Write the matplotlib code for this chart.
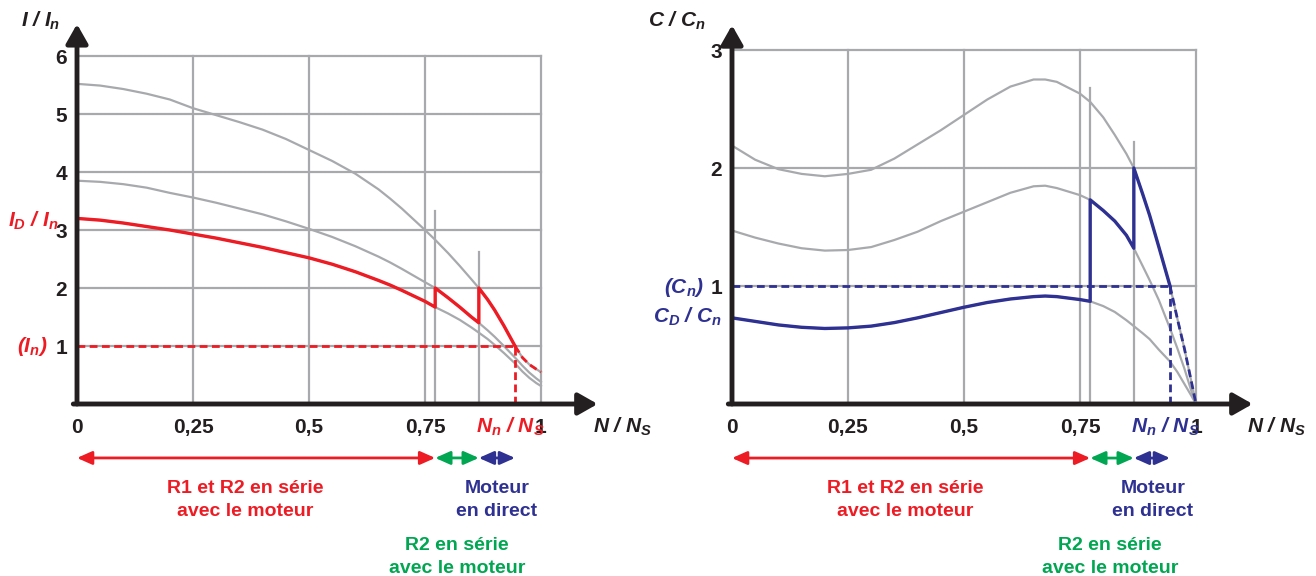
import matplotlib
matplotlib.use('Agg')
import matplotlib.pyplot as plt

plt.rcParams['font.family'] = ['Liberation Sans', 'DejaVu Sans']
plt.rcParams['font.weight'] = 'bold'
plt.rcParams['mathtext.fontset'] = 'custom'
plt.rcParams['mathtext.it'] = 'Liberation Sans:italic:bold'
plt.rcParams['mathtext.rm'] = 'Liberation Sans:bold'
plt.rcParams['mathtext.bf'] = 'Liberation Sans:bold'

# vitesses relatives N / Ns
vitesse = [0, 0.05, 0.1, 0.15, 0.2, 0.25, 0.3, 0.35, 0.4, 0.45, 0.5, 0.55, 0.6, 0.65,
           0.675, 0.7, 0.75, 0.772, 0.8, 0.825, 0.85, 0.866, 0.885, 0.9, 0.92, 0.944,
           0.96, 0.975, 0.99, 1.0]
n_r1 = 0.772   # court-circuit de R1
n_r2 = 0.866   # court-circuit de R2
n_n = 0.944    # point nominal

# courant I / In
courant_direct = [5.52, 5.49, 5.43, 5.35, 5.25, 5.1, 4.98, 4.86, 4.73, 4.57, 4.38, 4.19,
                  3.97, 3.7, 3.54, 3.37, 3.0, 2.83, 2.6, 2.38, 2.15, 2.0, 1.8, 1.62,
                  1.35, 1.0, 0.8, 0.68, 0.6, 0.55]
courant_r2 = [3.85, 3.83, 3.79, 3.73, 3.64, 3.56, 3.47, 3.37, 3.27, 3.15, 3.02, 2.88,
              2.72, 2.54, 2.44, 2.33, 2.1, 2.0, 1.83, 1.67, 1.5, 1.4, 1.27, 1.16,
              1.0, 0.8, 0.66, 0.54, 0.44, 0.38]
courant_r1r2 = [3.2, 3.17, 3.12, 3.06, 3.0, 2.93, 2.86, 2.78, 2.7, 2.61, 2.52, 2.41,
                2.28, 2.13, 2.05, 1.96, 1.77, 1.67, 1.56, 1.45, 1.32, 1.23, 1.12, 1.02,
                0.88, 0.7, 0.56, 0.45, 0.36, 0.31]

# couple C / Cn
couple_direct = [2.19, 2.07, 1.99, 1.95, 1.93, 1.95, 1.985, 2.08, 2.2, 2.32, 2.45, 2.58,
                 2.69, 2.75, 2.75, 2.73, 2.63, 2.56, 2.43, 2.28, 2.12, 2.0, 1.78, 1.6,
                 1.33, 1.0, 0.72, 0.47, 0.19, 0.0]
couple_r2 = [1.47, 1.41, 1.36, 1.32, 1.3, 1.305, 1.33, 1.39, 1.46, 1.55, 1.63, 1.71,
             1.79, 1.845, 1.85, 1.83, 1.77, 1.73, 1.64, 1.55, 1.43, 1.32, 1.17, 1.05,
             0.88, 0.64, 0.47, 0.3, 0.11, 0.0]
couple_r1r2 = [0.73, 0.7, 0.67, 0.65, 0.64, 0.645, 0.66, 0.69, 0.73, 0.775, 0.82, 0.86,
               0.89, 0.91, 0.915, 0.91, 0.885, 0.87, 0.83, 0.78, 0.71, 0.66, 0.6, 0.55,
               0.46, 0.36, 0.27, 0.17, 0.07, 0.0]

ticks_x = [0, 0.25, 0.5, 0.75, 1]
ticks_x_lab = ['0', '0,25', '0,5', '0,75', '1']
ticks_i = [1, 2, 3, 4, 5, 6]
ticks_c = [1, 2, 3]

rouge = '#ED1C24'
bleu = '#2E3192'
vert = '#00A651'
gris = '#A7A9AC'
noir = '#231F20'

W, H = 1316, 576
fig = plt.figure(figsize=(W / 100, H / 100), dpi=100)


def texte(x, y, s, **kw):
    fig.text(x / W, 1 - y / H, s, **kw)


i1 = vitesse.index(n_r1)
i2 = vitesse.index(n_r2)
i3 = vitesse.index(n_n)


def trajet(c1, c2, c3):
    xs = vitesse[:i1 + 1] + vitesse[i1:i2 + 1] + vitesse[i2:i3 + 1]
    ys = c1[:i1 + 1] + c2[i1:i2 + 1] + c3[i2:i3 + 1]
    return xs, ys


def repere(ax, ymax, y_fleche, hauts, y_barre):
    # grille
    for t in ticks_x[1:]:
        ax.plot([t, t], [0, ymax], color=gris, lw=1.6, zorder=1)
    ax.plot([n_r1, n_r1], [0, hauts[0]], color=gris, lw=1.6, zorder=1)
    ax.plot([n_r2, n_r2], [0, hauts[1]], color=gris, lw=1.6, zorder=1)
    # axes avec flèches
    tete = '-|>,head_length=0.58,head_width=0.33'
    ax.annotate('', xy=(1.122, 0), xytext=(-0.008, 0),
                arrowprops=dict(arrowstyle=tete, lw=3.5, color=noir, shrinkA=0, shrinkB=0,
                                mutation_scale=20),
                annotation_clip=False, zorder=5)
    ax.annotate('', xy=(0, y_fleche), xytext=(0, 0),
                arrowprops=dict(arrowstyle=tete, lw=3.5, color=noir, shrinkA=0, shrinkB=0,
                                mutation_scale=20),
                annotation_clip=False, zorder=5)
    for t, lab in zip(ticks_x, ticks_x_lab):
        ax.annotate(lab, xy=(t, 0), xytext=(0, -21), textcoords='offset points',
                    ha='center', va='baseline', fontsize=15, color=noir,
                    annotation_clip=False)
    # flèches des phases
    for a, b, c in [(0, n_r1, rouge), (n_r1, n_r2, vert), (n_r2, n_n, bleu)]:
        ax.annotate('', xy=(b, y_barre), xytext=(a, y_barre),
                    arrowprops=dict(arrowstyle='<|-|>,head_length=0.9,head_width=0.4',
                                    lw=2, color=c, shrinkA=0, shrinkB=0, mutation_scale=10),
                    annotation_clip=False)
    ax.axis('off')


# ---------- courant ----------
ax1 = fig.add_axes([77 / W, (H - 404) / H, 523 / W, 384 / H])
ax1.set_xlim(0, 523 / 464)
ax1.set_ylim(0, 384 / 58)
for t in ticks_i:
    ax1.plot([0, 1], [t, t], color=gris, lw=1.6, zorder=1)
    ax1.annotate(str(t), xy=(0, t), xytext=(-7, 0), textcoords='offset points',
                 ha='right', va='center_baseline', fontsize=15, color=noir,
                 annotation_clip=False)
repere(ax1, 6, 6.55, [3.33, 2.62], -0.93)
for c in [courant_direct, courant_r2, courant_r1r2]:
    ax1.plot(vitesse, c, color=gris, lw=1.6, zorder=2)
xs, ys = trajet(courant_r1r2, courant_r2, courant_direct)
ax1.plot(xs, ys, color=rouge, lw=2.4, zorder=3)
ax1.plot(vitesse[i3:], courant_direct[i3:], color=rouge, lw=2, ls=(0, (2.8, 1.6)), zorder=3)
ax1.plot([0, n_n], [1, 1], color=rouge, lw=2, ls=(0, (2.8, 1.6)), zorder=3)
ax1.plot([n_n, n_n], [0, 1], color=rouge, lw=2, ls=(0, (2.8, 1.6)), zorder=3)

txt = dict(fontsize=15, va='baseline', style='italic')
texte(41, 27, r'$I$ / $I_n$', color=noir, ha='center', **txt)
texte(8, 227, r'$I_D$ / $I_n$', color=rouge, ha='left', **txt)
texte(32, 352, r'($I_n$)', color=rouge, ha='center', **txt)
texte(510, 433, r'$N_n$ / $N_S$', color=rouge, ha='center', **txt)
texte(623, 433, r'$N$ / $N_S$', color=noir, ha='center', **txt)
bas = dict(fontsize=14, ha='center', va='center', linespacing=1.45)
texte(245, 500, 'R1 et R2 en série\navec le moteur', color=rouge, **bas)
texte(497, 500, 'Moteur\nen direct', color=bleu, **bas)
texte(457, 557, 'R2 en série\navec le moteur', color=vert, **bas)

# ---------- couple ----------
ax2 = fig.add_axes([732 / W, (H - 404) / H, 523 / W, 384 / H])
ax2.set_xlim(0, 523 / 464)
ax2.set_ylim(0, 384 / 118)
for t in ticks_c:
    ax2.plot([0, 1], [t, t], color=gris, lw=1.6, zorder=1)
    ax2.annotate(str(t), xy=(0, t), xytext=(-7, 0), textcoords='offset points',
                 ha='right', va='center_baseline', fontsize=15, color=noir,
                 annotation_clip=False)
repere(ax2, 3, 3.21, [2.68, 2.22], -0.458)
for c in [couple_direct, couple_r2, couple_r1r2]:
    ax2.plot(vitesse, c, color=gris, lw=1.6, zorder=2)
xs, ys = trajet(couple_r1r2, couple_r2, couple_direct)
ax2.plot(xs, ys, color=bleu, lw=2.4, zorder=3)
ax2.plot(vitesse[i3:], couple_direct[i3:], color=bleu, lw=2, ls=(0, (2.8, 1.6)), zorder=3)
ax2.plot([0, n_n], [1, 1], color=bleu, lw=2, ls=(0, (2.8, 1.6)), zorder=3)
ax2.plot([n_n, n_n], [0, 1], color=bleu, lw=2, ls=(0, (2.8, 1.6)), zorder=3)

texte(677, 27, r'$C$ / $C_n$', color=noir, ha='center', **txt)
texte(684, 293, r'($C_n$)', color=bleu, ha='center', **txt)
texte(687, 323, r'$C_D$ / $C_n$', color=bleu, ha='center', **txt)
texte(1165, 433, r'$N_n$ / $N_S$', color=bleu, ha='center', **txt)
texte(1277, 433, r'$N$ / $N_S$', color=noir, ha='center', **txt)
texte(905, 500, 'R1 et R2 en série\navec le moteur', color=rouge, **bas)
texte(1153, 500, 'Moteur\nen direct', color=bleu, **bas)
texte(1110, 557, 'R2 en série\navec le moteur', color=vert, **bas)

fig.savefig('out.png', dpi=100, facecolor='white')
